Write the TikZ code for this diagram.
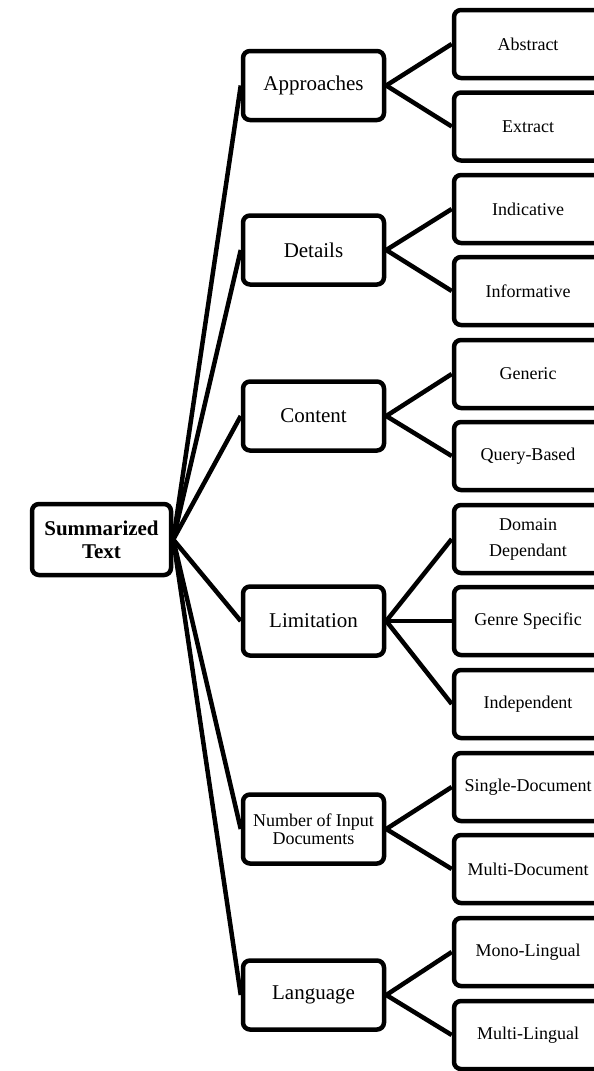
\documentclass[tikz,border=0pt]{standalone}
\usepackage{fontspec}
\setmainfont{Liberation Serif}
\begin{document}
\begin{tikzpicture}[x=1pt,y=-1pt,
  box/.style={draw=black, line width=4.5pt, rounded corners=7pt, fill=white,
              inner sep=0pt, align=center},
  rootbox/.style={box, minimum width=139pt, minimum height=71pt,
              font=\bfseries\fontsize{21}{23}\selectfont},
  mid/.style={box, minimum width=141pt, minimum height=69pt,
              font=\fontsize{21}{23}\selectfont},
  leaf/.style={box, minimum width=148pt, minimum height=68pt,
              font=\fontsize{18}{22}\selectfont},
  link/.style={line width=4.5pt, draw=black}]
\useasboundingbox (0,0) rectangle (594,1071);
\clip (0,0) rectangle (594,1071);

% root
\node[rootbox] (root) at (101.5,539.5) {Summarized\\Text};

% categories
\node[mid] (appr) at (313.5,85.5) {Approaches};
\node[mid] (det)  at (313.5,250)  {Details};
\node[mid] (cont) at (313.5,416)  {Content};
\node[mid] (lim)  at (313.5,621)  {Limitation};
\node[mid, font=\fontsize{18}{18.5}\selectfont] (num) at (313.5,829) {Number of Input\\Documents};
\node[mid] (lang) at (313.5,995)  {Language};

% leaves (their right side runs off the page edge)
\node[leaf] (abs)  at (528,44)    {Abstract};
\node[leaf] (ext)  at (528,126.5) {Extract};
\node[leaf] (ind)  at (528,209)   {Indicative};
\node[leaf] (inf)  at (528,291)   {Informative};
\node[leaf] (gen)  at (528,374)   {Generic};
\node[leaf] (qry)  at (528,456)   {Query-Based};
\node[leaf, font=\fontsize{18}{26}\selectfont] (dom) at (528,539) {Domain\\Dependant};
\node[leaf] (gsp)  at (528,621)   {Genre Specific};
\node[leaf] (inde) at (528,704)   {Independent};
\node[leaf] (sdoc) at (528,787)   {Single-Document};
\node[leaf] (mdoc) at (528,869)   {Multi-Document};
\node[leaf] (mono) at (528,952)   {Mono-Lingual};
\node[leaf] (mlng) at (528,1035)  {Multi-Lingual};

% connectors
\foreach \c in {appr,det,cont,lim,num,lang}
  \draw[link] (root.east) -- (\c.west);
\foreach \p/\c in {appr/abs,appr/ext,det/ind,det/inf,cont/gen,cont/qry,
                   lim/dom,lim/gsp,lim/inde,num/sdoc,num/mdoc,lang/mono,lang/mlng}
  \draw[link] (\p.east) -- (\c.west);
\end{tikzpicture}
\end{document}
